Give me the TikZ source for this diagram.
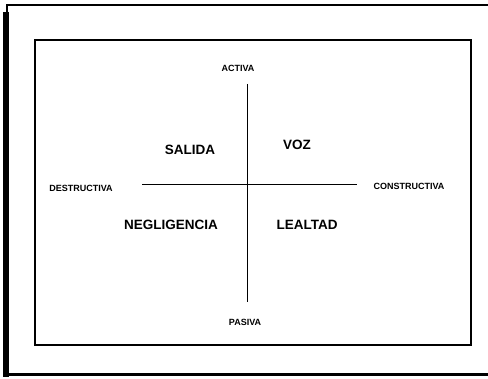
\documentclass[tikz,border=0pt]{standalone}
\usepackage{fontspec}
\setmainfont{Liberation Sans}
\begin{document}
\begin{tikzpicture}[x=1pt,y=-1pt,
  small/.style={font=\fontsize{9}{10}\selectfont\bfseries, inner sep=0pt},
  big/.style={font=\fontsize{13.5}{15}\selectfont\bfseries, inner sep=0pt},
  axis/.style={line width=1pt}]
\useasboundingbox (0,0) rectangle (488,379);
% outer frame
\draw[line width=1.4pt] (7,13) |- (488,5);
\draw[line width=6pt] (5.5,12) -- (5.5,377);
\draw[line width=3pt] (3,375) -- (488,375);
% inner frame
\draw[line width=1.2pt] (35,40) rectangle (471,345);
% labels
\node[small] (activa) at (238,68) {ACTIVA};
\node[small] (pasiva) at (245,322) {PASIVA};
\node[small] (destr) at (81,188) {DESTRUCTIVA};
\node[small] (constr) at (409,186) {CONSTRUCTIVA};
\node[big] (salida) at (190,150) {SALIDA};
\node[big] (voz) at (297,145) {VOZ};
\node[big] (negl) at (171,225) {NEGLIGENCIA};
\node[big] (leal) at (307,225) {LEALTAD};
% axes
\coordinate (vt) at (247,84);
\coordinate (vb) at (247,302);
\coordinate (hl) at (142,185);
\coordinate (hr) at (357,185);
\draw[axis] (vt) -- (vb);
\draw[axis] (hl) -- (hr);
\end{tikzpicture}
\end{document}
